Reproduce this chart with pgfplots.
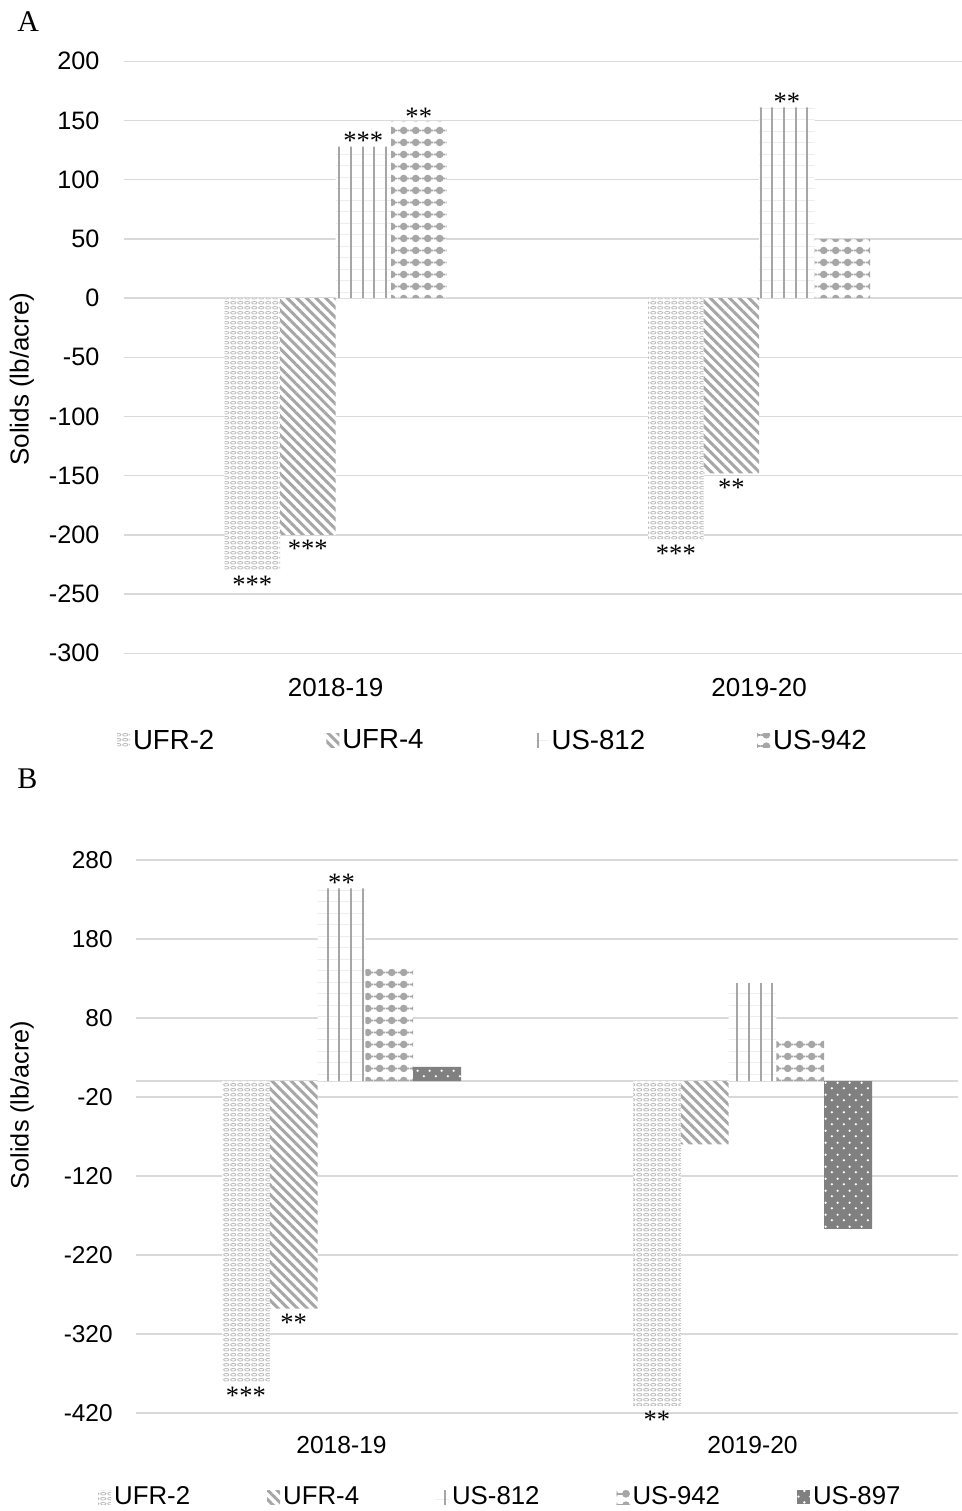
\documentclass[border=0pt]{standalone}
\usepackage{fontspec}
\setmainfont{Liberation Sans}
\newfontfamily\seriffont{Liberation Serif}
\usepackage{pgfplots}
\pgfplotsset{compat=1.18}
\usetikzlibrary{patterns.meta}

\definecolor{patgray}{HTML}{A6A6A6}
\definecolor{lightpat}{HTML}{BDBDBD}
\definecolor{gridgray}{HTML}{D9D9D9}
\definecolor{darkbar}{HTML}{808080}

% star labels: above a positive bar / below a negative bar
\protected\def\up#1{\raisebox{-0.33em}[0.36em][0pt]{#1}}
\protected\def\dn#1{\raisebox{\dimexpr-5bp-0.68em\relax}[0.36em][0pt]{#1}}

% UFR-2: rows of small ovals
\pgfdeclarepattern{
  name=chainrows, type=uncolored,
  bottom left={\pgfpoint{0bp}{0bp}},
  top right={\pgfpoint{3.6bp}{2.6bp}},
  tile size={\pgfpoint{3.6bp}{2.6bp}},
  code={
    \pgfsetlinewidth{0.45bp}
    \pgfpathellipse{\pgfpoint{1.8bp}{1.3bp}}{\pgfpoint{1.45bp}{0bp}}{\pgfpoint{0bp}{0.75bp}}
    \pgfusepath{stroke}
  }
}
% US-942: dots on a line
\pgfdeclarepattern{
  name=dotline, type=uncolored,
  bottom left={\pgfpoint{0bp}{0bp}},
  top right={\pgfpoint{5.85bp}{5.75bp}},
  tile size={\pgfpoint{5.85bp}{5.75bp}},
  code={
    \pgfsetlinewidth{0.85bp}
    \pgfpathmoveto{\pgfpoint{0bp}{2.875bp}}\pgfpathlineto{\pgfpoint{5.85bp}{2.875bp}}
    \pgfusepath{stroke}
    \pgfpathcircle{\pgfpoint{2.925bp}{2.875bp}}{1.95bp}
    \pgfusepath{fill}
  }
}
% US-897: small white dots
\pgfdeclarepattern{
  name=wdots, type=uncolored,
  bottom left={\pgfpoint{0bp}{0bp}},
  top right={\pgfpoint{5.85bp}{5.75bp}},
  tile size={\pgfpoint{5.85bp}{5.75bp}},
  code={
    \pgfpathcircle{\pgfpoint{1.46bp}{1.44bp}}{0.65bp}
    \pgfpathcircle{\pgfpoint{4.39bp}{4.31bp}}{0.65bp}
    \pgfusepath{fill}
  }
}

\pgfplotsset{
  sUFRtwo/.style={fill=white, draw=none, postaction={pattern=chainrows, pattern color=lightpat}},
  sUFRfour/.style={fill=white, draw=none, postaction={pattern={Lines[angle=-45, distance=3.4bp, line width=1.5bp]}, pattern color=patgray}},
  sUSeight/.style={fill=white, draw=none,
     postaction={pattern={Lines[angle=0, distance=5.75bp, line width=0.35bp]}, pattern color=black!7},
     postaction={pattern={Lines[angle=90, distance=5.85bp, line width=1bp]}, pattern color=patgray}},
  sUSnine/.style={fill=white, draw=none, postaction={pattern=dotline, pattern color=patgray}},
  sUSnineseven/.style={fill=darkbar, draw=none, postaction={pattern=wdots, pattern color=white}},
}

\begin{document}
\begin{tikzpicture}
\useasboundingbox (0,0) rectangle (481bp,755.5bp);

\node[anchor=base west, inner sep=0pt, font=\seriffont\fontsize{15bp}{17bp}\selectfont] at (8.5bp,739.7bp) {A};
\node[anchor=base west, inner sep=0pt, font=\seriffont\fontsize{15bp}{17bp}\selectfont] at (8.5bp,361bp) {B};

% ---------------- Panel A ----------------
\begin{axis}[
  at={(61.875bp,428.85bp)}, anchor=south west,
  scale only axis, width=419.125bp, height=296bp,
  xmin=-0.5, xmax=1.479,
  ymin=-300, ymax=200,
  ytick={-300,-250,...,200},
  xtick={0,1}, xticklabels={2018-19,2019-20},
  axis line style={draw=none},
  major tick length=0pt,
  ymajorgrids, grid style={gridgray, line width=0.75bp},
  ybar=0pt, bar width=0.131,
  /pgf/number format/assume math mode=true,
  yticklabel style={anchor=east, inner sep=0pt, xshift=-12bp, font=\fontsize{12.6bp}{15bp}\selectfont},
  xticklabel style={anchor=center, inner sep=0pt, yshift=-17.35bp, font=\fontsize{13bp}{15bp}\selectfont},
  ylabel={Solids (lb/acre)},
  ylabel style={at={(axis description cs:-0.1214,0.4633)}, anchor=center, inner sep=0pt, font=\fontsize{13bp}{15bp}\selectfont},
  point meta=explicit symbolic,
  nodes near coords={\pgfplotspointmeta},
  every node near coord/.append style={anchor=south, font=\seriffont\fontsize{13.3bp}{15bp}\selectfont, inner sep=2.5bp, text=black},
  legend columns=4,
  legend cell align=left,
  legend image code/.code={\path[#1] (0bp,-3.5bp) rectangle (6.5bp,3.5bp);},
  legend style={at={(axis description cs:-0.008,-0.148)}, anchor=west, draw=none, fill=none,
    inner sep=0pt, outer sep=0pt, column sep=0pt,
    font=\fontsize{13.8bp}{16bp}\selectfont,
    nodes={inner sep=1.5bp},
    /tikz/every even column/.append style={column sep=54.5bp}},
]
\addplot[sUFRtwo] coordinates {(0,-230) [\dn{***}] (1,-204) [\dn{***}]};
\addplot[sUFRfour] coordinates {(0,-200) [\dn{***}] (1,-148) [\dn{**}]};
\addplot[sUSeight] coordinates {(0,128) [\up{***}] (1,161) [\up{**}]};
\addplot[sUSnine] coordinates {(0,149) [\up{**}] (1,50) []};
\legend{UFR-2,UFR-4,US-812,US-942}
\end{axis}

% ---------------- Panel B ----------------
\begin{axis}[
  at={(68bp,49bp)}, anchor=south west,
  scale only axis, width=411bp, height=276.5bp,
  xmin=-0.5, xmax=1.5,
  ymin=-420, ymax=280,
  ytick={-420,-320,...,280},
  extra y ticks={0}, extra y tick labels={}, extra y tick style={grid=major},
  xtick={0,1}, xticklabels={2018-19,2019-20},
  axis line style={draw=none},
  major tick length=0pt,
  ymajorgrids, grid style={gridgray, line width=0.75bp},
  ybar=0pt, bar width=0.1163,
  /pgf/number format/assume math mode=true,
  yticklabel style={anchor=east, inner sep=0pt, xshift=-11.5bp, font=\fontsize{12.2bp}{15bp}\selectfont},
  xticklabel style={anchor=center, inner sep=0pt, yshift=-16bp, font=\fontsize{12.3bp}{15bp}\selectfont},
  ylabel={Solids (lb/acre)},
  ylabel style={at={(axis description cs:-0.1387,0.557)}, anchor=center, inner sep=0pt, font=\fontsize{12.6bp}{15bp}\selectfont},
  point meta=explicit symbolic,
  nodes near coords={\pgfplotspointmeta},
  every node near coord/.append style={anchor=south, font=\seriffont\fontsize{13.3bp}{15bp}\selectfont, inner sep=2.5bp, text=black},
  legend columns=5,
  legend cell align=left,
  legend image code/.code={\path[#1] (0bp,-3.5bp) rectangle (6.5bp,3.5bp);},
  legend style={at={(axis description cs:-0.046,-0.152)}, anchor=west, draw=none, fill=none,
    inner sep=0pt, outer sep=0pt, column sep=0pt,
    font=\fontsize{12.9bp}{15bp}\selectfont,
    nodes={inner sep=1.5bp},
    /tikz/every even column/.append style={column sep=37bp}},
]
\addplot[sUFRtwo] coordinates {(0,-381) [\dn{***}] (1,-411) [\dn{**}]};
\addplot[sUFRfour] coordinates {(0,-288) [\dn{**}] (1,-80) []};
\addplot[sUSeight] coordinates {(0,244) [\up{**}] (1,124) []};
\addplot[sUSnine] coordinates {(0,142) [] (1,54) []};
\addplot[sUSnineseven] coordinates {(0,18) [] (1,-187) []};
\legend{UFR-2,UFR-4,US-812,US-942,US-897}
\end{axis}
\end{tikzpicture}
\end{document}
